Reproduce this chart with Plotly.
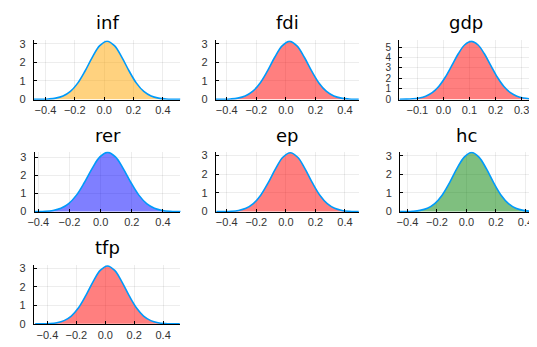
import plotly.graph_objects as go

# the page adds an 8px body margin, so the figure is drawn 8px smaller and
# every pixel position below is shifted by that margin
OFF = 8
W, H = 537 - OFF, 347 - OFF

names = ["inf", "fdi", "gdp", "rer", "ep", "hc", "tfp"]

inf_x = [-0.48, -0.43, -0.38, -0.33, -0.28, -0.23, -0.18, -0.13, -0.08, -0.03, 0.02,
         0.07, 0.12, 0.17, 0.22, 0.27, 0.32, 0.37, 0.42, 0.47, 0.52]
inf_y = [0.001, 0.005, 0.019, 0.062, 0.177, 0.425, 0.876, 1.534, 2.287, 2.907, 3.15,
         2.907, 2.287, 1.534, 0.876, 0.425, 0.177, 0.062, 0.019, 0.005, 0.001]

fdi_x = [-0.475, -0.425, -0.375, -0.325, -0.275, -0.225, -0.175, -0.125, -0.075, -0.025, 0.025,
         0.075, 0.125, 0.175, 0.225, 0.275, 0.325, 0.375, 0.425, 0.475, 0.525]
fdi_y = [0.001, 0.005, 0.019, 0.062, 0.176, 0.424, 0.873, 1.529, 2.280, 2.898, 3.14,
         2.898, 2.280, 1.529, 0.873, 0.424, 0.176, 0.062, 0.019, 0.005, 0.001]

gdp_x = [-0.168, -0.143, -0.118, -0.093, -0.068, -0.043, -0.018, 0.007, 0.032, 0.057, 0.082,
         0.107, 0.132, 0.157, 0.182, 0.207, 0.232, 0.257, 0.282, 0.307, 0.332, 0.357]
gdp_y = [0.004, 0.013, 0.041, 0.115, 0.285, 0.627, 1.222, 2.107, 3.222, 4.365, 5.232,
         5.56, 5.232, 4.365, 3.222, 2.107, 1.222, 0.627, 0.285, 0.115, 0.041, 0.013]

rer_x = [-0.455, -0.405, -0.355, -0.305, -0.255, -0.205, -0.155, -0.105, -0.055, -0.005, 0.045,
         0.095, 0.145, 0.195, 0.245, 0.295, 0.345, 0.395, 0.445, 0.495, 0.545]
rer_y = [0.001, 0.005, 0.019, 0.065, 0.183, 0.440, 0.906, 1.588, 2.367, 3.009, 3.26,
         3.009, 2.367, 1.588, 0.906, 0.440, 0.183, 0.065, 0.019, 0.005, 0.001]

ep_x = [-0.47, -0.42, -0.37, -0.32, -0.27, -0.22, -0.17, -0.12, -0.07, -0.02, 0.03,
        0.08, 0.13, 0.18, 0.23, 0.28, 0.33, 0.38, 0.43, 0.48, 0.53]
ep_y = [0.001, 0.005, 0.019, 0.062, 0.176, 0.424, 0.873, 1.529, 2.280, 2.898, 3.14,
        2.898, 2.280, 1.529, 0.873, 0.424, 0.176, 0.062, 0.019, 0.005, 0.001]

hc_x = [-0.465, -0.415, -0.365, -0.315, -0.265, -0.215, -0.165, -0.115, -0.065, -0.015, 0.035,
        0.085, 0.135, 0.185, 0.235, 0.285, 0.335, 0.385, 0.435, 0.485, 0.535]
hc_y = [0.001, 0.005, 0.019, 0.063, 0.178, 0.428, 0.881, 1.544, 2.301, 2.926, 3.17,
        2.926, 2.301, 1.544, 0.881, 0.428, 0.178, 0.063, 0.019, 0.005, 0.001]

tfp_x = [-0.485, -0.435, -0.385, -0.335, -0.285, -0.235, -0.185, -0.135, -0.085, -0.035, 0.015,
         0.065, 0.115, 0.165, 0.215, 0.265, 0.315, 0.365, 0.415, 0.465, 0.515]
tfp_y = [0.001, 0.005, 0.019, 0.062, 0.175, 0.421, 0.867, 1.519, 2.265, 2.880, 3.12,
         2.880, 2.265, 1.519, 0.867, 0.421, 0.175, 0.062, 0.019, 0.005, 0.001]

xs = [inf_x, fdi_x, gdp_x, rer_x, ep_x, hc_x, tfp_x]
ys = [inf_y, fdi_y, gdp_y, rer_y, ep_y, hc_y, tfp_y]

fills = ["rgba(255,165,0,0.5)", "rgba(255,0,0,0.5)", "rgba(255,0,0,0.5)",
         "rgba(0,0,255,0.5)", "rgba(255,0,0,0.5)", "rgba(0,128,0,0.5)",
         "rgba(255,0,0,0.5)"]

x_ranges = [[-0.48, 0.52], [-0.473, 0.493], [-0.17, 0.34], [-0.423, 0.512],
            [-0.473, 0.493], [-0.45, 0.445], [-0.495, 0.52]]
y_ranges = [[-0.03, 3.2], [-0.03, 3.2], [-0.06, 5.66], [-0.03, 3.3],
            [-0.03, 3.2], [-0.03, 3.22], [-0.03, 3.18]]
x_ticks = [[-0.4, -0.2, 0.0, 0.2, 0.4]] * 2 + [[-0.1, 0.0, 0.1, 0.2, 0.3]] + \
          [[-0.4, -0.2, 0.0, 0.2, 0.4]] * 4
y_ticks = [[0, 1, 2, 3], [0, 1, 2, 3], [0, 1, 2, 3, 4, 5], [0, 1, 2, 3],
           [0, 1, 2, 3], [0, 1, 2, 3], [0, 1, 2, 3]]

# pixel boxes in the reference (left, right, top, bottom)
boxes = [(27, 176, 38, 99), (212, 357, 38, 99), (398, 533, 38, 99),
         (28, 176, 152, 214), (212, 357, 152, 214), (399, 533, 152, 214),
         (27, 176, 268, 329)]
title_y = [20, 20, 20, 135, 135, 135, 250]

TICK_FONT = "Liberation Sans"

fig = go.Figure()
layout = dict(width=W, height=H, margin=dict(l=0, r=0, t=0, b=0),
              paper_bgcolor="white", plot_bgcolor="white", showlegend=False,
              font=dict(family=TICK_FONT, size=11, color="#333333"))
annotations = []
for i in range(7):
    sfx = "" if i == 0 else str(i + 1)
    l, r, t, b = [v - OFF for v in boxes[i]]
    fig.add_trace(go.Scatter(x=xs[i], y=ys[i], mode="lines",
                             line=dict(color="#009AFA", width=1.6, shape="spline"),
                             fill="tozeroy", fillcolor=fills[i],
                             xaxis="x" + sfx, yaxis="y" + sfx))
    common = dict(showgrid=True, gridcolor="rgba(0,0,0,0.07)", gridwidth=0.8,
                  zeroline=False, showline=True, linecolor="black", linewidth=1,
                  ticks="inside", ticklen=3, tickcolor="black")
    ysize = 10 if len(y_ticks[i]) > 4 else 11
    layout["xaxis" + sfx] = dict(domain=[l / W, min(r / W, 1.0)], range=x_ranges[i],
                                 tickvals=x_ticks[i], tickformat=".1f", tickangle=0,
                                 tickfont=dict(family=TICK_FONT, size=11, color="#333333"),
                                 anchor="y" + sfx, **common)
    layout["yaxis" + sfx] = dict(domain=[1 - b / H, 1 - t / H], range=y_ranges[i],
                                 tickvals=y_ticks[i], anchor="x" + sfx,
                                 tickfont=dict(family=TICK_FONT, size=ysize, color="#333333"),
                                 ticklabelstandoff=5, **common)
    annotations.append(dict(text=names[i], x=(l + r) / 2 / W, y=1 - (title_y[i] - OFF) / H,
                            xref="paper", yref="paper", showarrow=False,
                            xanchor="center", yanchor="middle",
                            font=dict(size=18, color="black", family="DejaVu Sans")))
layout["annotations"] = annotations
fig.update_layout(**layout)
fig.write_html("out.html")
